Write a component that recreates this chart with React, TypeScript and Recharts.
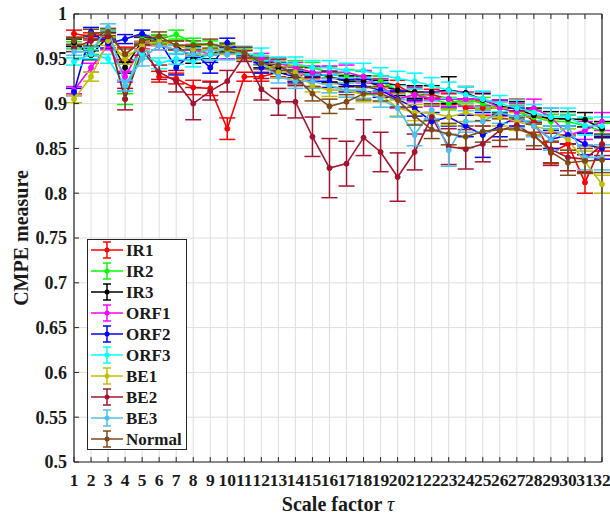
import { LineChart, Line, XAxis, YAxis, CartesianGrid, ErrorBar } from "recharts"

const TAU = [1, 2, 3, 4, 5, 6, 7, 8, 9, 10, 11, 12, 13, 14, 15, 16, 17, 18, 19, 20, 21, 22, 23, 24, 25, 26, 27, 28, 29, 30, 31, 32]
const Y_TICKS = [0.5, 0.55, 0.6, 0.65, 0.7, 0.75, 0.8, 0.85, 0.9, 0.95, 1]

const IR1 = [0.978, 0.975, 0.978, 0.955, 0.97, 0.93, 0.928, 0.918, 0.917, 0.872, 0.93, 0.93, 0.935, 0.93, 0.935, 0.93, 0.925, 0.93, 0.925, 0.92, 0.91, 0.91, 0.905, 0.895, 0.895, 0.895, 0.895, 0.88, 0.845, 0.855, 0.812, 0.855]
const IR1_ERR = [0.004, 0.004, 0.004, 0.008, 0.004, 0.006, 0.006, 0.008, 0.008, 0.012, 0.005, 0.005, 0.005, 0.005, 0.005, 0.006, 0.006, 0.006, 0.006, 0.006, 0.006, 0.006, 0.006, 0.008, 0.008, 0.008, 0.01, 0.012, 0.012, 0.01, 0.012, 0.008]

const IR2 = [0.965, 0.96, 0.978, 0.905, 0.972, 0.972, 0.977, 0.968, 0.965, 0.963, 0.958, 0.948, 0.945, 0.942, 0.94, 0.935, 0.932, 0.93, 0.925, 0.915, 0.912, 0.905, 0.9, 0.905, 0.9, 0.895, 0.89, 0.885, 0.88, 0.88, 0.875, 0.87]
const IR2_ERR = [0.004, 0.005, 0.004, 0.006, 0.004, 0.005, 0.005, 0.005, 0.005, 0.005, 0.005, 0.005, 0.006, 0.006, 0.006, 0.006, 0.006, 0.006, 0.006, 0.006, 0.007, 0.007, 0.007, 0.007, 0.007, 0.007, 0.008, 0.008, 0.008, 0.008, 0.008, 0.008]

const IR3 = [0.968, 0.954, 0.975, 0.94, 0.97, 0.97, 0.965, 0.95, 0.955, 0.96, 0.955, 0.945, 0.94, 0.935, 0.935, 0.93, 0.925, 0.925, 0.92, 0.915, 0.913, 0.913, 0.915, 0.912, 0.904, 0.897, 0.894, 0.887, 0.883, 0.883, 0.882, 0.872]
const IR3_ERR = [0.004, 0.005, 0.004, 0.006, 0.004, 0.005, 0.005, 0.005, 0.005, 0.005, 0.005, 0.005, 0.006, 0.006, 0.006, 0.006, 0.006, 0.006, 0.006, 0.006, 0.007, 0.007, 0.015, 0.007, 0.007, 0.007, 0.008, 0.008, 0.008, 0.008, 0.008, 0.008]

const ORF1 = [0.915, 0.94, 0.965, 0.93, 0.965, 0.965, 0.96, 0.96, 0.955, 0.955, 0.955, 0.95, 0.945, 0.94, 0.935, 0.935, 0.935, 0.93, 0.92, 0.905, 0.91, 0.905, 0.905, 0.905, 0.905, 0.895, 0.89, 0.895, 0.885, 0.865, 0.87, 0.88]
const ORF1_ERR = [0.004, 0.005, 0.005, 0.006, 0.004, 0.005, 0.005, 0.006, 0.006, 0.005, 0.005, 0.006, 0.006, 0.006, 0.007, 0.007, 0.008, 0.007, 0.008, 0.01, 0.008, 0.008, 0.008, 0.008, 0.008, 0.009, 0.01, 0.01, 0.01, 0.01, 0.01, 0.01]

const ORF2 = [0.913, 0.98, 0.967, 0.972, 0.978, 0.97, 0.94, 0.958, 0.94, 0.968, 0.958, 0.94, 0.935, 0.93, 0.925, 0.925, 0.92, 0.92, 0.915, 0.905, 0.895, 0.88, 0.885, 0.875, 0.865, 0.875, 0.885, 0.875, 0.86, 0.865, 0.855, 0.85]
const ORF2_ERR = [0.004, 0.005, 0.005, 0.005, 0.004, 0.005, 0.008, 0.006, 0.006, 0.005, 0.005, 0.006, 0.006, 0.006, 0.006, 0.007, 0.007, 0.007, 0.008, 0.009, 0.009, 0.01, 0.01, 0.012, 0.025, 0.012, 0.01, 0.01, 0.01, 0.01, 0.012, 0.012]

const ORF3 = [0.947, 0.955, 0.95, 0.92, 0.955, 0.945, 0.95, 0.947, 0.955, 0.955, 0.955, 0.955, 0.945, 0.945, 0.94, 0.94, 0.937, 0.937, 0.932, 0.928, 0.925, 0.92, 0.915, 0.91, 0.905, 0.9, 0.895, 0.89, 0.885, 0.885, 0.875, 0.875]
const ORF3_ERR = [0.004, 0.005, 0.005, 0.006, 0.005, 0.006, 0.006, 0.006, 0.006, 0.006, 0.006, 0.007, 0.007, 0.007, 0.008, 0.008, 0.008, 0.008, 0.008, 0.008, 0.009, 0.009, 0.009, 0.009, 0.009, 0.009, 0.009, 0.009, 0.01, 0.01, 0.01, 0.01]

const BE1 = [0.905, 0.93, 0.97, 0.95, 0.965, 0.97, 0.965, 0.96, 0.96, 0.96, 0.955, 0.945, 0.935, 0.935, 0.92, 0.915, 0.915, 0.91, 0.91, 0.895, 0.89, 0.89, 0.885, 0.89, 0.885, 0.885, 0.88, 0.875, 0.87, 0.86, 0.835, 0.81]
const BE1_ERR = [0.004, 0.005, 0.005, 0.006, 0.005, 0.005, 0.005, 0.005, 0.005, 0.005, 0.006, 0.006, 0.006, 0.007, 0.007, 0.007, 0.008, 0.008, 0.008, 0.009, 0.009, 0.009, 0.009, 0.01, 0.01, 0.01, 0.01, 0.01, 0.012, 0.012, 0.012, 0.01]

const BE2 = [0.962, 0.97, 0.975, 0.905, 0.96, 0.935, 0.925, 0.9, 0.914, 0.925, 0.953, 0.916, 0.902, 0.902, 0.863, 0.828, 0.833, 0.862, 0.846, 0.818, 0.846, 0.885, 0.852, 0.849, 0.855, 0.87, 0.876, 0.864, 0.849, 0.84, 0.838, 0.854]
const BE2_ERR = [0.004, 0.006, 0.005, 0.012, 0.006, 0.008, 0.012, 0.018, 0.01, 0.012, 0.006, 0.012, 0.015, 0.018, 0.022, 0.033, 0.025, 0.02, 0.022, 0.027, 0.02, 0.015, 0.02, 0.022, 0.02, 0.018, 0.016, 0.015, 0.018, 0.015, 0.015, 0.012]

const BE3 = [0.958, 0.958, 0.985, 0.92, 0.95, 0.965, 0.96, 0.955, 0.96, 0.955, 0.958, 0.945, 0.93, 0.925, 0.925, 0.92, 0.915, 0.915, 0.905, 0.895, 0.865, 0.893, 0.848, 0.88, 0.88, 0.89, 0.885, 0.875, 0.86, 0.875, 0.84, 0.84]
const BE3_ERR = [0.004, 0.005, 0.004, 0.006, 0.008, 0.005, 0.005, 0.006, 0.006, 0.006, 0.006, 0.007, 0.007, 0.008, 0.008, 0.008, 0.008, 0.009, 0.009, 0.01, 0.012, 0.01, 0.018, 0.012, 0.012, 0.012, 0.012, 0.012, 0.012, 0.012, 0.014, 0.014]

const NORMAL = [0.97, 0.978, 0.98, 0.955, 0.97, 0.975, 0.965, 0.965, 0.967, 0.962, 0.957, 0.945, 0.943, 0.93, 0.911, 0.897, 0.902, 0.911, 0.911, 0.904, 0.886, 0.871, 0.866, 0.863, 0.869, 0.871, 0.872, 0.865, 0.846, 0.834, 0.836, 0.837]
const NORMAL_ERR = [0.004, 0.005, 0.004, 0.006, 0.005, 0.005, 0.005, 0.005, 0.005, 0.005, 0.006, 0.006, 0.006, 0.008, 0.008, 0.008, 0.008, 0.007, 0.008, 0.008, 0.01, 0.01, 0.012, 0.012, 0.012, 0.012, 0.012, 0.012, 0.012, 0.014, 0.014, 0.014]

const SERIES = [
  { name: "IR1", values: IR1, err: IR1_ERR, color: "#ff0000" },
  { name: "IR2", values: IR2, err: IR2_ERR, color: "#00ff00" },
  { name: "IR3", values: IR3, err: IR3_ERR, color: "#000000" },
  { name: "ORF1", values: ORF1, err: ORF1_ERR, color: "#ff00ff" },
  { name: "ORF2", values: ORF2, err: ORF2_ERR, color: "#0000ff" },
  { name: "ORF3", values: ORF3, err: ORF3_ERR, color: "#00ffff" },
  { name: "BE1", values: BE1, err: BE1_ERR, color: "#bfbf00" },
  { name: "BE2", values: BE2, err: BE2_ERR, color: "#a2142f" },
  { name: "BE3", values: BE3, err: BE3_ERR, color: "#4dbeee" },
  { name: "Normal", values: NORMAL, err: NORMAL_ERR, color: "#7e4a16" },
]

const data = TAU.map((t, i) => {
  const row: Record<string, number> = { tau: t }
  SERIES.forEach((s) => {
    row[s.name] = s.values[i]
    row[s.name + "_e"] = s.err[i]
  })
  return row
})

const FONT = "'Liberation Serif', 'Times New Roman', serif"
const AXIS = "#262626"
const GRID = "#dedede"

// matlab style: ticks point inward
const BottomTick = (props: any) => {
  const { x, y, payload } = props
  const axisY = y - 12
  return (
    <g>
      <line x1={x} x2={x} y1={axisY} y2={axisY - 5} stroke={AXIS} />
      <text x={x} y={y} dy="0.71em" textAnchor="middle" fontFamily={FONT} fontWeight="bold" fontSize={17.5} fill="#1a1a1a">
        {payload.value}
      </text>
    </g>
  )
}

const LeftTick = (props: any) => {
  const { x, y, payload } = props
  const axisX = x + 7
  return (
    <g>
      <line x1={axisX} x2={axisX + 5} y1={y} y2={y} stroke={AXIS} />
      <text x={x} y={y} dy="0.35em" textAnchor="end" fontFamily={FONT} fontWeight="bold" fontSize={18} fill="#1a1a1a">
        {payload.value}
      </text>
    </g>
  )
}

const TopTick = (props: any) => {
  const { x, y } = props
  return <line x1={x} x2={x} y1={y} y2={y + 5} stroke={AXIS} />
}

const RightTick = (props: any) => {
  const { x, y } = props
  return <line x1={x} x2={x - 5} y1={y} y2={y} stroke={AXIS} />
}

function ChartLegend() {
  return (
    <div
      style={{
        position: "absolute",
        left: 87,
        top: 239,
        width: 100,
        height: 211,
        boxSizing: "border-box",
        border: "1px solid #262626",
        background: "#fff",
      }}
    >
      <svg width={100} height={211} style={{ position: "absolute", left: -1, top: -1 }}>
        {SERIES.map((s, i) => {
          const cy = 11 + i * 21
          return (
            <g key={s.name}>
              <line x1={4} x2={36} y1={cy} y2={cy} stroke={s.color} strokeWidth={1.5} />
              <line x1={20} x2={20} y1={cy - 8} y2={cy + 8} stroke={s.color} strokeWidth={1.5} />
              <line x1={16} x2={24} y1={cy - 8} y2={cy - 8} stroke={s.color} strokeWidth={1.5} />
              <line x1={16} x2={24} y1={cy + 8} y2={cy + 8} stroke={s.color} strokeWidth={1.5} />
              <circle cx={20} cy={cy} r={2.5} fill={s.color} />
              <text x={39} y={cy} dy="0.35em" fontFamily={FONT} fontWeight="bold" fontSize={17} fill="#1a1a1a">
                {s.name}
              </text>
            </g>
          )
        })}
      </svg>
    </div>
  )
}

export default function App() {
  return (
    <div style={{ position: "absolute", left: 0, top: 0, width: 610, height: 518, background: "#fff" }}>
      <LineChart width={610} height={518} data={data} margin={{ top: 0, right: 0, bottom: 0, left: 0 }}>
        <CartesianGrid stroke={GRID} strokeWidth={1} verticalValues={TAU} horizontalValues={Y_TICKS} />
        <XAxis
          dataKey="tau"
          type="number"
          domain={[1, 32]}
          ticks={TAU}
          interval={0}
          height={56}
          tickSize={0}
          tickMargin={12}
          tickLine={false}
          axisLine={{ stroke: AXIS, strokeWidth: 1.2 }}
          tick={<BottomTick />}
          label={{
            content: (p: any) => {
              const vb = p.viewBox
              return (
                <text x={vb.x + vb.width / 2} y={511} textAnchor="middle" fontFamily={FONT} fontWeight="bold" fontSize={20} fill="#1a1a1a">
                  Scale factor <tspan fontStyle="italic" fontWeight="normal">τ</tspan>
                </text>
              )
            },
          }}
        />
        <XAxis
          xAxisId="top"
          orientation="top"
          dataKey="tau"
          type="number"
          domain={[1, 32]}
          ticks={TAU}
          interval={0}
          height={14}
          tickSize={0}
          tickMargin={0}
          tickLine={false}
          axisLine={{ stroke: AXIS, strokeWidth: 1.2 }}
          tick={<TopTick />}
        />
        <YAxis
          type="number"
          domain={[0.5, 1]}
          ticks={Y_TICKS}
          interval={0}
          width={74}
          tickSize={0}
          tickMargin={7}
          tickLine={false}
          axisLine={{ stroke: AXIS, strokeWidth: 1.2 }}
          tick={<LeftTick />}
          label={{
            content: (p: any) => {
              const vb = p.viewBox
              const cy = vb.y + vb.height / 2
              return (
                <text x={21} y={cy} transform={`rotate(-90 21 ${cy})`} dy="0.35em" textAnchor="middle" fontFamily={FONT} fontWeight="bold" fontSize={20} fill="#1a1a1a">
                  CMPE measure
                </text>
              )
            },
          }}
        />
        <YAxis
          yAxisId="right"
          orientation="right"
          type="number"
          domain={[0.5, 1]}
          ticks={Y_TICKS}
          interval={0}
          width={8}
          tickSize={0}
          tickMargin={0}
          tickLine={false}
          axisLine={{ stroke: AXIS, strokeWidth: 1.2 }}
          tick={<RightTick />}
        />
        {SERIES.map((s) => (
          <Line
            key={s.name}
            dataKey={s.name}
            type="linear"
            stroke={s.color}
            strokeWidth={1.6}
            dot={{ r: 2.5, fill: s.color, stroke: s.color, strokeWidth: 1 }}
            activeDot={false}
            isAnimationActive={false}
          >
            <ErrorBar dataKey={s.name + "_e"} width={8} strokeWidth={1.5} stroke={s.color} direction="y" isAnimationActive={false} />
          </Line>
        ))}
      </LineChart>
      <ChartLegend />
    </div>
  )
}
